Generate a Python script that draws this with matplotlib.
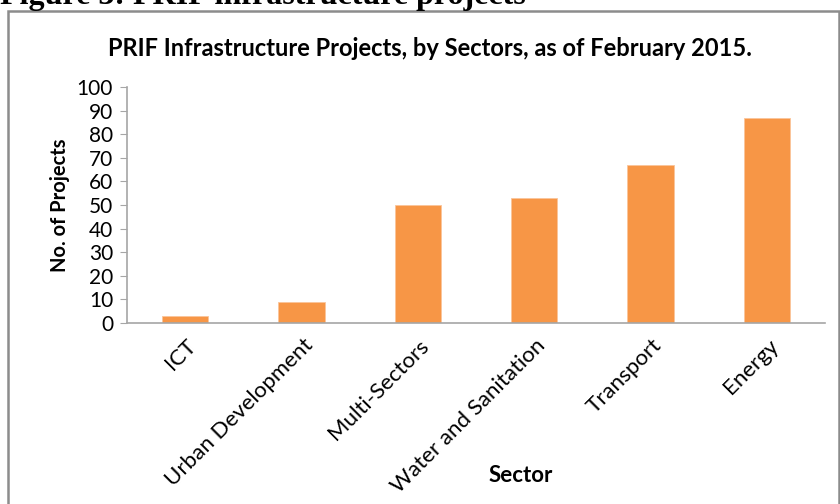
import matplotlib
matplotlib.use("Agg")
import matplotlib.pyplot as plt
from matplotlib.patches import Rectangle
from matplotlib.transforms import ScaledTranslation

# data
sectors = ["ICT", "Urban Development", "Multi-Sectors",
           "Water and Sanitation", "Transport", "Energy"]
projects = [3, 9, 50, 53, 67, 87]
yticks = list(range(0, 101, 10))

bar_color = "#F79646"
axis_color = "#A6A6A6"

plt.rcParams["font.family"] = ["Lato", "DejaVu Sans"]

fig = plt.figure(figsize=(8.4, 5.04), dpi=100)

# document caption, cut off at the top like the screenshot
fig.text(0.0, 1 - 4 / 504, "Figure 3: PRIF infrastructure projects",
         family="Liberation Serif", fontweight="bold", fontsize=23,
         ha="left", va="baseline")

# chart frame
fig.patches.append(Rectangle((8 / 840, -0.05), 831 / 840, 1.05 - 11 / 504,
                             transform=fig.transFigure, fill=False,
                             edgecolor="#8C8C8C", linewidth=1.8))

ax = fig.add_axes([127 / 840, 1 - 323 / 504, 698 / 840, 236 / 504])
x = range(len(sectors))
ax.bar(x, projects, width=0.4, color=bar_color, edgecolor="#FAC59A",
       linewidth=0.6)

ax.set_xlim(-0.5, len(sectors) - 0.5)
ax.set_ylim(0, 100)
ax.set_yticks(yticks)
ax.set_xticks(list(x))
ax.set_xticklabels(sectors, rotation=45, ha="right", va="center",
                   rotation_mode="anchor", fontsize=16)
ax.tick_params(axis="x", length=0, pad=14)
ax.tick_params(axis="y", length=5, color=axis_color, labelsize=15, pad=5)

# Excel puts the end of each slanted label a bit right of the bar centre
shift = ScaledTranslation(0.08, 0, fig.dpi_scale_trans)
for lbl in ax.get_xticklabels():
    lbl.set_transform(lbl.get_transform() + shift)

for side in ["top", "right"]:
    ax.spines[side].set_visible(False)
for side in ["left", "bottom"]:
    ax.spines[side].set_color(axis_color)
    ax.spines[side].set_linewidth(1.2)

fig.text(430 / 840, 1 - 48 / 504,
         "PRIF Infrastructure Projects, by Sectors, as of February 2015.",
         fontsize=17, fontweight="bold", ha="center", va="center")
fig.text(60 / 840, 1 - 205 / 504, "No. of Projects", rotation=90,
         fontsize=14.5, fontweight="bold", ha="center", va="center")
fig.text(521 / 840, 1 - 475 / 504, "Sector",
         fontsize=16, fontweight="bold", ha="center", va="center")

fig.savefig("out.png", dpi=100)
